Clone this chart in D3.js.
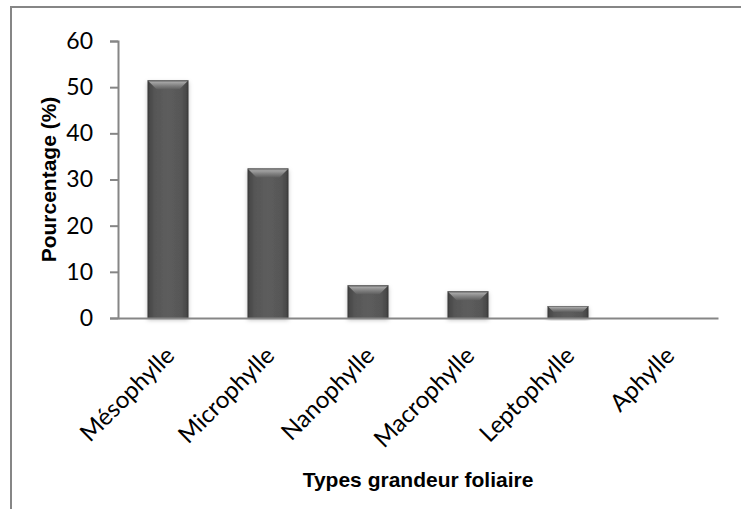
<!DOCTYPE html>
<html>
<head>
<meta charset="utf-8">
<script src="https://cdn.jsdelivr.net/npm/d3@7/dist/d3.min.js"></script>
<style>
  html, body { margin: 0; padding: 0; background: #fff; }
  svg { display: block; }
  .tick-label { font-family: Lato, "Open Sans", sans-serif; font-size: 23px; fill: #000; }
  .cat-label { font-family: Lato, "Open Sans", sans-serif; font-size: 24px; fill: #000; }
  .title { font-family: "Liberation Sans", Arial, sans-serif; font-weight: bold; font-size: 21px; fill: #000; }
</style>
</head>
<body>
<svg width="741" height="509"></svg>
<script>
// data
let categories = ["Mésophylle", "Microphylle", "Nanophylle", "Macrophylle", "Leptophylle", "Aphylle"];
let values = [51.5, 32.4, 7.1, 5.8, 2.6, 0];
let yTicks = [0, 10, 20, 30, 40, 50, 60];

let plot = {left: 118, right: 718, top: 41, bottom: 318};
let axisColor = "#868686";

let svg = d3.select("svg");

// outer frame (runs off the right and bottom of the picture)
svg.append("rect")
    .attr("x", 11)
    .attr("y", 7)
    .attr("width", 900)
    .attr("height", 700)
    .attr("fill", "none")
    .attr("stroke", axisColor)
    .attr("stroke-width", 2);

let x = d3.scaleBand()
    .domain(categories)
    .range([plot.left, plot.right])
    .paddingInner(0.59)
    .paddingOuter(0.295);

let y = d3.scaleLinear()
    .domain([0, 60])
    .range([plot.bottom, plot.top]);

// gradients for the bevelled bars
let defs = svg.append("defs");
let side = defs.append("linearGradient").attr("id", "barSide")
    .attr("x1", 0).attr("x2", 1).attr("y1", 0).attr("y2", 0);
[[0, "#333"], [0.06, "#4a4a4a"], [0.2, "#575757"], [0.5, "#5d5d5d"], [0.8, "#575757"], [0.94, "#4a4a4a"], [1, "#333"]]
  .forEach(s => side.append("stop").attr("offset", s[0]).attr("stop-color", s[1]));
let topG = defs.append("linearGradient").attr("id", "barTop")
    .attr("x1", 0).attr("x2", 0).attr("y1", 0).attr("y2", 1);
[[0, "#606060"], [0.25, "#a2a2a2"], [0.6, "#808080"], [1, "#5e5e5e"]]
  .forEach(s => topG.append("stop").attr("offset", s[0]).attr("stop-color", s[1]));
let shadow = defs.append("filter").attr("id", "shadow")
    .attr("x", "-20%").attr("y", "-20%").attr("width", "140%").attr("height", "140%");
shadow.append("feDropShadow")
    .attr("dx", 0).attr("dy", 2).attr("stdDeviation", 2)
    .attr("flood-color", "#000").attr("flood-opacity", 0.25);

let bars = svg.append("g").selectAll(".bar")
    .data(categories.map((c, i) => ({cat: c, value: values[i]})))
  .enter().append("g")
    .attr("class", "bar");

bars.append("rect")
    .attr("x", d => x(d.cat))
    .attr("y", d => y(d.value))
    .attr("width", x.bandwidth())
    .attr("height", d => Math.max(0.5, y(0) - y(d.value)))
    .attr("fill", d => d.value > 0 ? "url(#barSide)" : "#f4f4f4")
    .attr("filter", "url(#shadow)");

bars.filter(d => d.value > 0).append("path")
    .attr("fill", "url(#barTop)")
    .attr("d", d => {
      let x0 = x(d.cat), w = x.bandwidth(), t = y(d.value);
      let b = Math.min(9, (y(0) - t) / 2);
      return "M" + x0 + "," + t + "L" + (x0 + w) + "," + t +
             "L" + (x0 + w - b) + "," + (t + b) + "L" + (x0 + b) + "," + (t + b) + "Z";
    });

// y axis
let yAxis = svg.append("g")
    .attr("transform", "translate(" + plot.left + ",0)")
    .call(d3.axisLeft(y).tickValues(yTicks).tickSize(8).tickPadding(17));
yAxis.select(".domain").attr("stroke", axisColor).attr("stroke-width", 2);
yAxis.selectAll(".tick line").attr("stroke", axisColor).attr("stroke-width", 2);
yAxis.selectAll(".tick text").attr("class", "tick-label").attr("font-family", null).attr("font-size", null);

// x axis line
let xAxis = svg.append("g")
    .attr("transform", "translate(0," + plot.bottom + ")")
    .call(d3.axisBottom(x).tickSize(0).tickFormat(""));
xAxis.select(".domain").attr("stroke", axisColor).attr("stroke-width", 2);

// rotated category labels
svg.append("g").selectAll(".cat-label")
    .data(categories)
  .enter().append("text")
    .attr("class", "cat-label")
    .attr("text-anchor", "end")
    .attr("transform", d => "translate(" + (x(d) + x.bandwidth() / 2 + 8) + ",357) rotate(-45)")
    .text(d => d);

svg.append("text")
    .attr("class", "title")
    .attr("text-anchor", "middle")
    .attr("transform", "translate(56," + ((plot.top + plot.bottom) / 2) + ") rotate(-90)")
    .text("Pourcentage (%)");

svg.append("text")
    .attr("class", "title")
    .attr("text-anchor", "middle")
    .attr("x", 418)
    .attr("y", 487)
    .text("Types grandeur foliaire");
</script>
</body>
</html>
